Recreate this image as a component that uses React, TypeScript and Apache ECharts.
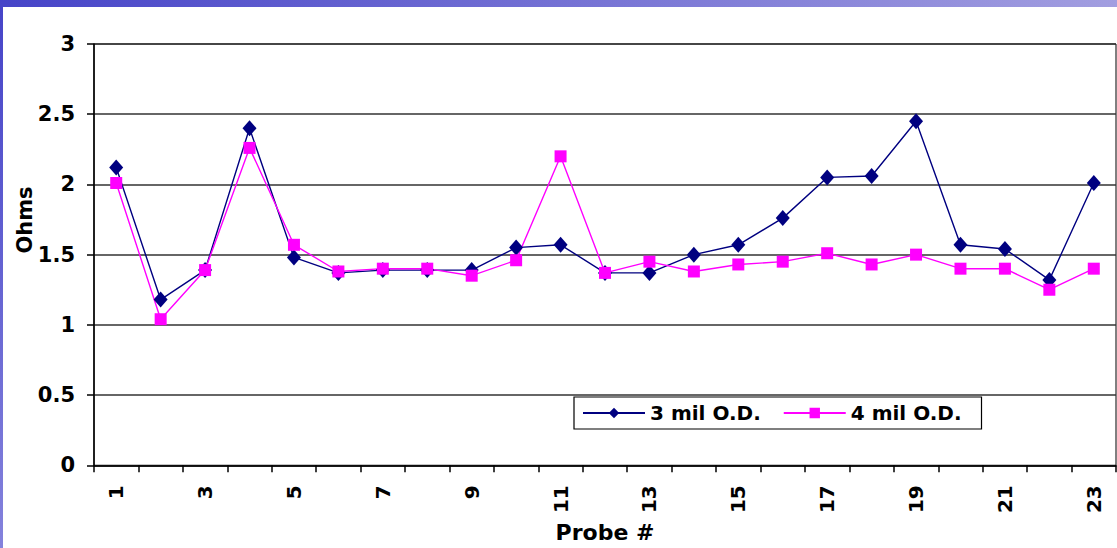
import React, { useEffect, useRef } from "react";
import * as echarts from "echarts";

const categories = ["1","2","3","4","5","6","7","8","9","10","11","12","13","14","15","16","17","18","19","20","21","22","23"];
const series3mil = [2.12,1.18,1.39,2.40,1.48,1.37,1.39,1.39,1.39,1.55,1.57,1.37,1.37,1.50,1.57,1.76,2.05,2.06,2.45,1.57,1.54,1.32,2.01];
const series4mil = [2.01,1.04,1.39,2.26,1.57,1.38,1.40,1.40,1.35,1.46,2.20,1.37,1.45,1.38,1.43,1.45,1.51,1.43,1.50,1.40,1.40,1.25,1.40];
const seriesNames = ["3 mil O.D.", "4 mil O.D."];
const yAxisTitle = "Ohms";
const xAxisTitle = "Probe #";

const FONT = "'DejaVu Sans', Arial, sans-serif";

export default function App() {
  const ref = useRef<HTMLDivElement>(null);
  useEffect(() => {
    document.body.style.margin = "0";
    if (!ref.current) return;
    const chart = echarts.init(ref.current, null, { renderer: "svg" });
    chart.setOption({
      animation: false,
      backgroundColor: "#ffffff",
      graphic: [
        {
          type: "rect",
          left: 0,
          top: 0,
          shape: { width: 1117, height: 7 },
          style: {
            fill: new echarts.graphic.LinearGradient(0, 0, 1, 0, [
              { offset: 0, color: "#4644c8" },
              { offset: 1, color: "#a29ee0" },
            ]),
          },
          silent: true,
        },
        {
          type: "rect",
          left: 0,
          top: 0,
          shape: { width: 3, height: 548 },
          style: {
            fill: new echarts.graphic.LinearGradient(0, 0, 0, 1, [
              { offset: 0, color: "#4644c8" },
              { offset: 1, color: "#8482dc" },
            ]),
          },
          silent: true,
        },
        {
          type: "text",
          x: 25,
          y: 220,
          rotation: Math.PI / 2,
          style: {
            text: yAxisTitle,
            font: `bold 21px ${FONT}`,
            fill: "#000",
            textAlign: "center",
            textVerticalAlign: "middle",
          },
        },
      ],
      grid: {
        left: 94,
        right: 1,
        top: 44,
        bottom: 81,
        show: true,
        borderColor: "#000",
        borderWidth: 1,
        backgroundColor: "#fff",
      },
      legend: {
        left: 574,
        top: 397,
        orient: "horizontal",
        padding: [6, 20, 6, 8],
        itemWidth: 62,
        itemHeight: 13,
        itemGap: 22,
        borderColor: "#000",
        borderWidth: 1.2,
        backgroundColor: "#fff",
        borderRadius: 0,
        textStyle: {
          fontFamily: FONT,
          fontWeight: "bold",
          fontSize: 20,
          color: "#000",
        },
        data: seriesNames,
      },
      xAxis: {
        type: "category",
        data: categories,
        boundaryGap: true,
        name: xAxisTitle,
        nameLocation: "middle",
        nameGap: 53,
        nameTextStyle: {
          fontFamily: FONT,
          fontWeight: "bold",
          fontSize: 22,
          color: "#000",
        },
        axisLine: { lineStyle: { color: "#000", width: 1.5 } },
        axisTick: { show: true, interval: 0, length: 7, lineStyle: { color: "#000", width: 1.5 } },
        axisLabel: {
          interval: 1,
          rotate: 90,
          margin: 20,
          fontFamily: FONT,
          fontWeight: "bold",
          fontSize: 20,
          color: "#000",
        },
        splitLine: { show: false },
      },
      yAxis: {
        type: "value",
        min: 0,
        max: 3,
        interval: 0.5,
        axisLine: { show: true, lineStyle: { color: "#000", width: 1.5 } },
        axisTick: { show: true, length: 7, lineStyle: { color: "#000", width: 1.5 } },
        axisLabel: {
          margin: 19,
          fontFamily: FONT,
          fontWeight: "bold",
          fontSize: 21,
          color: "#000",
        },
        splitLine: { show: true, lineStyle: { color: "#333", width: 1.6 } },
      },
      series: [
        {
          name: seriesNames[0],
          type: "line",
          data: series3mil,
          symbol: "diamond",
          symbolSize: [14, 16],
          lineStyle: { color: "#000080", width: 1.4 },
          itemStyle: { color: "#000080" },
        },
        {
          name: seriesNames[1],
          type: "line",
          data: series4mil,
          symbol: "rect",
          symbolSize: 12,
          lineStyle: { color: "#ff00ff", width: 1.4 },
          itemStyle: { color: "#ff00ff" },
        },
      ],
    });
    return () => chart.dispose();
  }, []);
  return <div ref={ref} style={{ width: 1117, height: 548 }} />;
}
